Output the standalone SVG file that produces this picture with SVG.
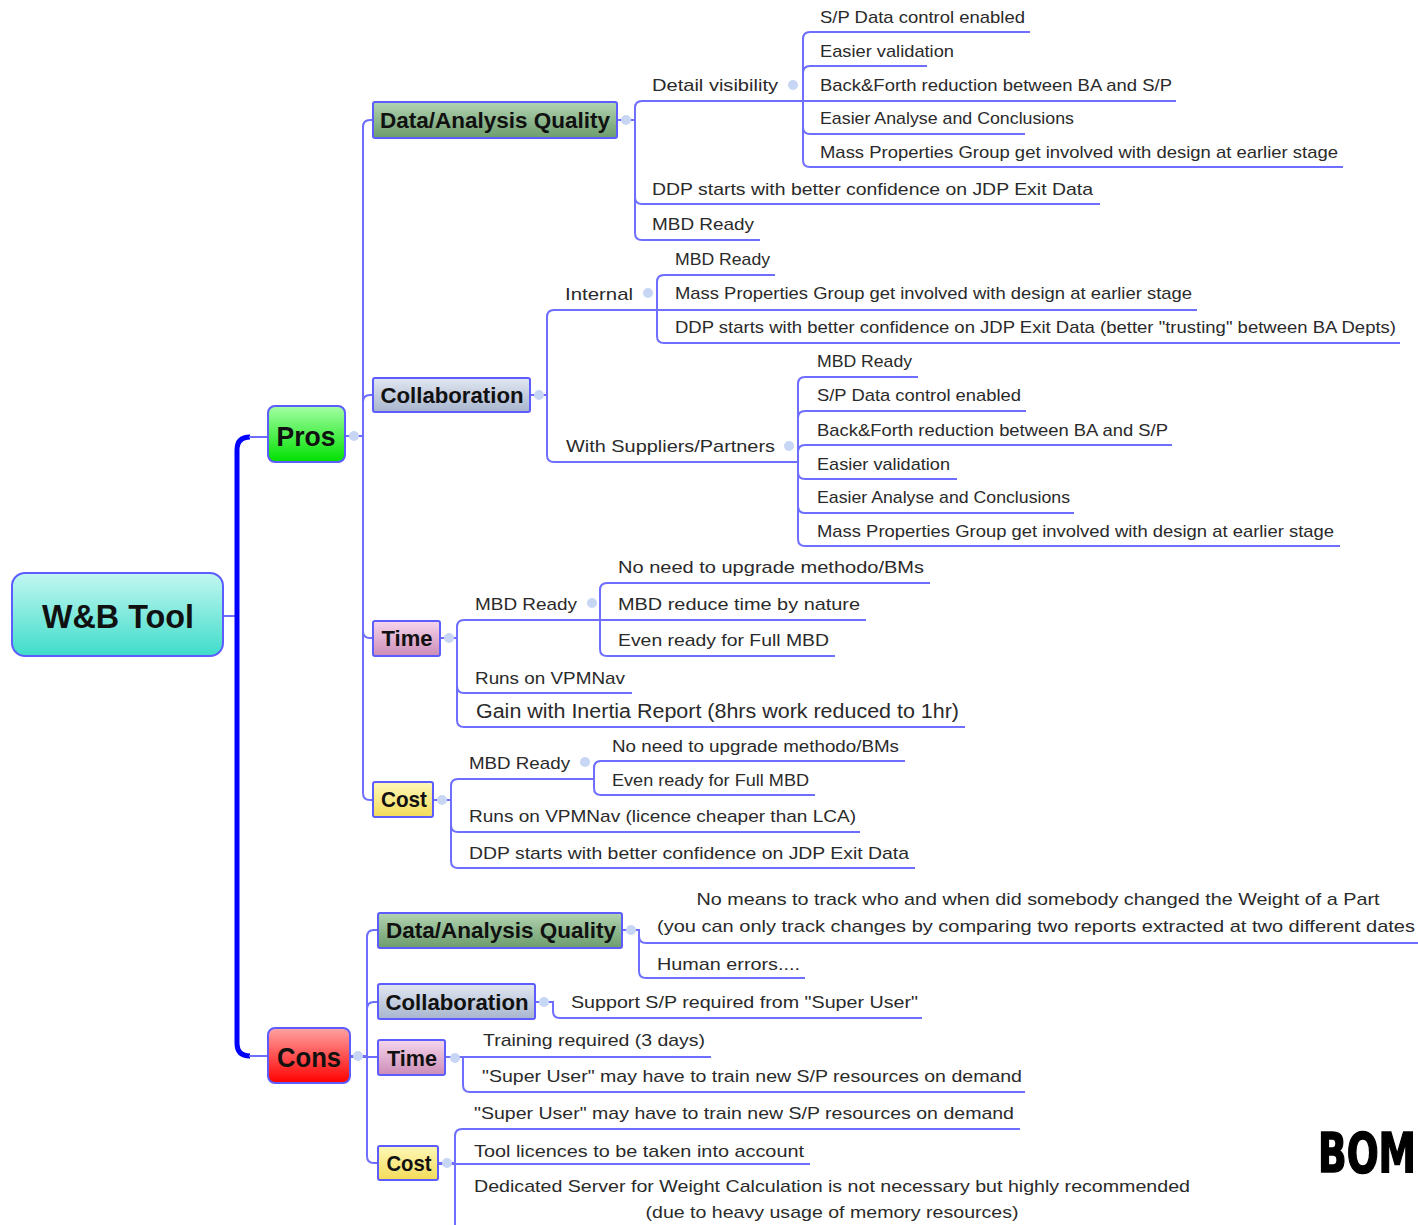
<svg xmlns="http://www.w3.org/2000/svg" width="1418" height="1225" viewBox="0 0 1418 1225">
<defs>
<linearGradient id="gRoot" x1="0" y1="0" x2="0" y2="1"><stop offset="0" stop-color="#c2f7f1"/><stop offset="1" stop-color="#3fdcca"/></linearGradient>
<linearGradient id="gPros" x1="0" y1="0" x2="0" y2="1"><stop offset="0" stop-color="#a4ffa4"/><stop offset="1" stop-color="#00e000"/></linearGradient>
<linearGradient id="gCons" x1="0" y1="0" x2="0" y2="1"><stop offset="0" stop-color="#ffa4a4"/><stop offset="1" stop-color="#ff0000"/></linearGradient>
<linearGradient id="gDaq" x1="0" y1="0" x2="0" y2="1"><stop offset="0" stop-color="#b2d4b2"/><stop offset="1" stop-color="#6c9c6c"/></linearGradient>
<linearGradient id="gCol" x1="0" y1="0" x2="0" y2="1"><stop offset="0" stop-color="#e2e7f1"/><stop offset="1" stop-color="#a7b5cd"/></linearGradient>
<linearGradient id="gTime" x1="0" y1="0" x2="0" y2="1"><stop offset="0" stop-color="#f6d6ec"/><stop offset="1" stop-color="#cc8cb6"/></linearGradient>
<linearGradient id="gCost" x1="0" y1="0" x2="0" y2="1"><stop offset="0" stop-color="#fff8b8"/><stop offset="1" stop-color="#f2dc5a"/></linearGradient>
</defs>
<style>
.c{fill:none;stroke:#6e6eff;stroke-width:2}
.main{fill:none;stroke:#0000ff;stroke-width:5}
.box{stroke:#5c5cff;stroke-width:2}
.dot{fill:#c6d6f4}
.t{font-family:"Liberation Sans",Arial,sans-serif;font-size:17px;fill:#2a2a2a}
.n{font-family:"Liberation Sans",Arial,sans-serif;font-weight:bold;font-size:22px;fill:#111;text-anchor:middle}
.m{text-anchor:middle}
</style>
<rect width="1418" height="1225" fill="#ffffff"/>

<g id="connectors">
<path class="c" d="M223 616 H237"/>
<path class="main" d="M237 616 V450 Q237 437 250 437"/>
<path class="main" d="M237 616 V1043 Q237 1056 250 1056"/>
<path class="c" d="M249 437 H268"/>
<path class="c" d="M249 1056 H268"/>
<path class="c" d="M345 436 H363 V127 Q363 120 370 120 H373"/>
<path class="c" d="M345 436 H363 V402 Q363 395 370 395 H373"/>
<path class="c" d="M345 436 H363 V631 Q363 638 370 638 H373"/>
<path class="c" d="M345 436 H363 V793 Q363 800 370 800 H373"/>
<path class="c" d="M617 120 H635 V108 Q635 101 642 101 H803"/>
<path class="c" d="M617 120 H635 V197 Q635 204 642 204 H1100"/>
<path class="c" d="M617 120 H635 V233 Q635 240 642 240 H760"/>
<path class="c" d="M803 101 V39 Q803 32 810 32 H1030"/>
<path class="c" d="M803 101 V73 Q803 66 810 66 H927"/>
<path class="c" d="M803 101 H1176"/>
<path class="c" d="M803 101 V127 Q803 134 810 134 H1025"/>
<path class="c" d="M803 101 V160 Q803 167 810 167 H1343"/>
<path class="c" d="M530 395 H547 V317 Q547 310 554 310 H657"/>
<path class="c" d="M530 395 H547 V455 Q547 462 554 462 H798"/>
<path class="c" d="M657 310 V282 Q657 275 664 275 H775"/>
<path class="c" d="M657 310 H1197"/>
<path class="c" d="M657 310 V336 Q657 343 664 343 H1400"/>
<path class="c" d="M798 462 V384 Q798 377 805 377 H918"/>
<path class="c" d="M798 462 V418 Q798 411 805 411 H1026"/>
<path class="c" d="M798 462 V452 Q798 445 805 445 H1172"/>
<path class="c" d="M798 462 V472 Q798 479 805 479 H957"/>
<path class="c" d="M798 462 V506 Q798 513 805 513 H1074"/>
<path class="c" d="M798 462 V539 Q798 546 805 546 H1340"/>
<path class="c" d="M440 638 H457 V627 Q457 620 464 620 H600"/>
<path class="c" d="M440 638 H457 V686 Q457 693 464 693 H632"/>
<path class="c" d="M440 638 H457 V720 Q457 727 464 727 H965"/>
<path class="c" d="M600 620 V590 Q600 583 607 583 H930"/>
<path class="c" d="M600 620 H866"/>
<path class="c" d="M600 620 V649 Q600 656 607 656 H835"/>
<path class="c" d="M433 800 H451 V786 Q451 779 458 779 H594"/>
<path class="c" d="M433 800 H451 V825 Q451 832 458 832 H860"/>
<path class="c" d="M433 800 H451 V861 Q451 868 458 868 H915"/>
<path class="c" d="M594 779 V768 Q594 761 601 761 H905"/>
<path class="c" d="M594 779 V788 Q594 795 601 795 H815"/>
<path class="c" d="M350 1056 H367 V937 Q367 930 374 930 H378"/>
<path class="c" d="M350 1056 H367 V1009 Q367 1002 374 1002 H378"/>
<path class="c" d="M350 1057 H378"/>
<path class="c" d="M350 1056 H367 V1156 Q367 1163 374 1163 H378"/>
<path class="c" d="M622 930 H639 V936 Q639 943 646 943 H1418"/>
<path class="c" d="M622 930 H639 V971 Q639 978 646 978 H805"/>
<path class="c" d="M535 1002 H553 V1011 Q553 1018 560 1018 H922"/>
<path class="c" d="M445 1057 H711"/>
<path class="c" d="M445 1057 H463 V1085 Q463 1092 470 1092 H1025"/>
<path class="c" d="M438 1163 H455 V1136 Q455 1129 462 1129 H1020"/>
<path class="c" d="M438 1164 H810"/>
<path class="c" d="M438 1163 H455 V1232"/>
<circle class="dot" cx="354" cy="436" r="5"/>
<circle class="dot" cx="358" cy="1056" r="5"/>
<circle class="dot" cx="626" cy="120" r="5"/>
<circle class="dot" cx="793" cy="85" r="5"/>
<circle class="dot" cx="539" cy="395" r="5"/>
<circle class="dot" cx="648" cy="293" r="5"/>
<circle class="dot" cx="789" cy="446" r="5"/>
<circle class="dot" cx="449" cy="638" r="5"/>
<circle class="dot" cx="592" cy="603" r="5"/>
<circle class="dot" cx="442" cy="800" r="5"/>
<circle class="dot" cx="585" cy="762" r="5"/>
<circle class="dot" cx="631" cy="930" r="5"/>
<circle class="dot" cx="544" cy="1002" r="5"/>
<circle class="dot" cx="455" cy="1058" r="5"/>
<circle class="dot" cx="447" cy="1163" r="5"/>
</g>

<g id="root">
<rect class="box" x="12" y="573" width="211" height="83" rx="13" fill="url(#gRoot)"/>
<text class="n" x="118" y="628" style="font-size:33px" textLength="152" lengthAdjust="spacingAndGlyphs">W&amp;B Tool</text>
</g>

<g id="pros">
<rect class="box" x="268" y="406" width="77" height="56" rx="7" fill="url(#gPros)"/>
<text class="n" x="306" y="446" style="font-size:28px" textLength="59" lengthAdjust="spacingAndGlyphs">Pros</text>
</g>
<g id="cons">
<rect class="box" x="268" y="1028" width="82" height="55" rx="7" fill="url(#gCons)"/>
<text class="n" x="309" y="1067" style="font-size:28px" textLength="64" lengthAdjust="spacingAndGlyphs">Cons</text>
</g>

<g id="pros-daq">
<rect class="box" x="373" y="102" width="244" height="36" rx="2" fill="url(#gDaq)"/>
<text class="n" x="495" y="128" textLength="230" lengthAdjust="spacingAndGlyphs">Data/Analysis Quality</text>
</g>
<g id="pros-collab">
<rect class="box" x="373" y="378" width="157" height="34" rx="2" fill="url(#gCol)"/>
<text class="n" x="452" y="403" textLength="143" lengthAdjust="spacingAndGlyphs">Collaboration</text>
</g>
<g id="pros-time">
<rect class="box" x="373" y="621" width="67" height="35" rx="2" fill="url(#gTime)"/>
<text class="n" x="407" y="646" textLength="51" lengthAdjust="spacingAndGlyphs">Time</text>
</g>
<g id="pros-cost">
<rect class="box" x="373" y="782" width="60" height="35" rx="2" fill="url(#gCost)"/>
<text class="n" x="404" y="807" textLength="46" lengthAdjust="spacingAndGlyphs">Cost</text>
</g>

<g id="cons-daq">
<rect class="box" x="378" y="913" width="244" height="35" rx="2" fill="url(#gDaq)"/>
<text class="n" x="501" y="938" textLength="230" lengthAdjust="spacingAndGlyphs">Data/Analysis Quality</text>
</g>
<g id="cons-collab">
<rect class="box" x="378" y="984" width="157" height="35" rx="2" fill="url(#gCol)"/>
<text class="n" x="457" y="1010" textLength="143" lengthAdjust="spacingAndGlyphs">Collaboration</text>
</g>
<g id="cons-time">
<rect class="box" x="378" y="1040" width="67" height="35" rx="2" fill="url(#gTime)"/>
<text class="n" x="412" y="1066" textLength="50" lengthAdjust="spacingAndGlyphs">Time</text>
</g>
<g id="cons-cost">
<rect class="box" x="378" y="1146" width="60" height="34" rx="2" fill="url(#gCost)"/>
<text class="n" x="409" y="1171" textLength="45" lengthAdjust="spacingAndGlyphs">Cost</text>
</g>

<g id="pros-daq-leaves">
<text class="t" x="652" y="91" textLength="126" lengthAdjust="spacingAndGlyphs">Detail visibility</text>
<text class="t" x="820" y="23" textLength="205" lengthAdjust="spacingAndGlyphs">S/P Data control enabled</text>
<text class="t" x="820" y="57" textLength="134" lengthAdjust="spacingAndGlyphs">Easier validation</text>
<text class="t" x="820" y="91" textLength="352" lengthAdjust="spacingAndGlyphs">Back&amp;Forth reduction between BA and S/P</text>
<text class="t" x="820" y="124" textLength="254" lengthAdjust="spacingAndGlyphs">Easier Analyse and Conclusions</text>
<text class="t" x="820" y="158" textLength="518" lengthAdjust="spacingAndGlyphs">Mass Properties Group get involved with design at earlier stage</text>
<text class="t" x="652" y="195" textLength="441" lengthAdjust="spacingAndGlyphs">DDP starts with better confidence on JDP Exit Data</text>
<text class="t" x="652" y="230" textLength="102" lengthAdjust="spacingAndGlyphs">MBD Ready</text>
</g>

<g id="pros-collab-leaves">
<text class="t" x="565" y="300" textLength="68" lengthAdjust="spacingAndGlyphs">Internal</text>
<text class="t" x="675" y="265" textLength="95" lengthAdjust="spacingAndGlyphs">MBD Ready</text>
<text class="t" x="675" y="299" textLength="517" lengthAdjust="spacingAndGlyphs">Mass Properties Group get involved with design at earlier stage</text>
<text class="t" x="675" y="333" textLength="721" lengthAdjust="spacingAndGlyphs">DDP starts with better confidence on JDP Exit Data (better "trusting" between BA Depts)</text>
<text class="t" x="566" y="452" textLength="209" lengthAdjust="spacingAndGlyphs">With Suppliers/Partners</text>
<text class="t" x="817" y="367" textLength="95" lengthAdjust="spacingAndGlyphs">MBD Ready</text>
<text class="t" x="817" y="401" textLength="204" lengthAdjust="spacingAndGlyphs">S/P Data control enabled</text>
<text class="t" x="817" y="436" textLength="351" lengthAdjust="spacingAndGlyphs">Back&amp;Forth reduction between BA and S/P</text>
<text class="t" x="817" y="470" textLength="133" lengthAdjust="spacingAndGlyphs">Easier validation</text>
<text class="t" x="817" y="503" textLength="253" lengthAdjust="spacingAndGlyphs">Easier Analyse and Conclusions</text>
<text class="t" x="817" y="537" textLength="517" lengthAdjust="spacingAndGlyphs">Mass Properties Group get involved with design at earlier stage</text>
</g>

<g id="pros-time-leaves">
<text class="t" x="475" y="610" textLength="102" lengthAdjust="spacingAndGlyphs">MBD Ready</text>
<text class="t" x="618" y="573" textLength="306" lengthAdjust="spacingAndGlyphs">No need to upgrade methodo/BMs</text>
<text class="t" x="618" y="610" textLength="242" lengthAdjust="spacingAndGlyphs">MBD reduce time by nature</text>
<text class="t" x="618" y="646" textLength="211" lengthAdjust="spacingAndGlyphs">Even ready for Full MBD</text>
<text class="t" x="475" y="684" textLength="150" lengthAdjust="spacingAndGlyphs">Runs on VPMNav</text>
<text class="t" x="476" y="718" style="font-size:19.5px" textLength="483" lengthAdjust="spacingAndGlyphs">Gain with Inertia Report (8hrs work reduced to 1hr)</text>
</g>

<g id="pros-cost-leaves">
<text class="t" x="469" y="769" textLength="101" lengthAdjust="spacingAndGlyphs">MBD Ready</text>
<text class="t" x="612" y="752" style="font-size:16px" textLength="287" lengthAdjust="spacingAndGlyphs">No need to upgrade methodo/BMs</text>
<text class="t" x="612" y="786" style="font-size:16px" textLength="197" lengthAdjust="spacingAndGlyphs">Even ready for Full MBD</text>
<text class="t" x="469" y="822" textLength="387" lengthAdjust="spacingAndGlyphs">Runs on VPMNav (licence cheaper than LCA)</text>
<text class="t" x="469" y="859" textLength="440" lengthAdjust="spacingAndGlyphs">DDP starts with better confidence on JDP Exit Data</text>
</g>

<g id="cons-leaves">
<text class="t m" x="1038" y="905" textLength="683" lengthAdjust="spacingAndGlyphs">No means to track who and when did somebody changed the Weight of a Part</text>
<text class="t m" x="1036" y="932" textLength="758" lengthAdjust="spacingAndGlyphs">(you can only track changes by comparing two reports extracted at two different dates</text>
<text class="t" x="657" y="970" textLength="143" lengthAdjust="spacingAndGlyphs">Human errors....</text>
<text class="t" x="571" y="1008" textLength="347" lengthAdjust="spacingAndGlyphs">Support S/P required from "Super User"</text>
<text class="t" x="483" y="1046" textLength="222" lengthAdjust="spacingAndGlyphs">Training required (3 days)</text>
<text class="t" x="482" y="1082" textLength="540" lengthAdjust="spacingAndGlyphs">"Super User" may have to train new S/P resources on demand</text>
<text class="t" x="474" y="1119" textLength="540" lengthAdjust="spacingAndGlyphs">"Super User" may have to train new S/P resources on demand</text>
<text class="t" x="474" y="1157" textLength="330" lengthAdjust="spacingAndGlyphs">Tool licences to be taken into account</text>
<text class="t m" x="832" y="1192" textLength="716" lengthAdjust="spacingAndGlyphs">Dedicated Server for Weight Calculation is not necessary but highly recommended</text>
<text class="t m" x="832" y="1218" textLength="373" lengthAdjust="spacingAndGlyphs">(due to heavy usage of memory resources)</text>
</g>

<text x="1318" y="1172" style="font-family:'Liberation Sans Narrow','DejaVu Sans Condensed',sans-serif;font-weight:bold;font-size:56px;fill:#000;stroke:#000;stroke-width:1.5" textLength="98" lengthAdjust="spacingAndGlyphs">BOM</text>
</svg>
